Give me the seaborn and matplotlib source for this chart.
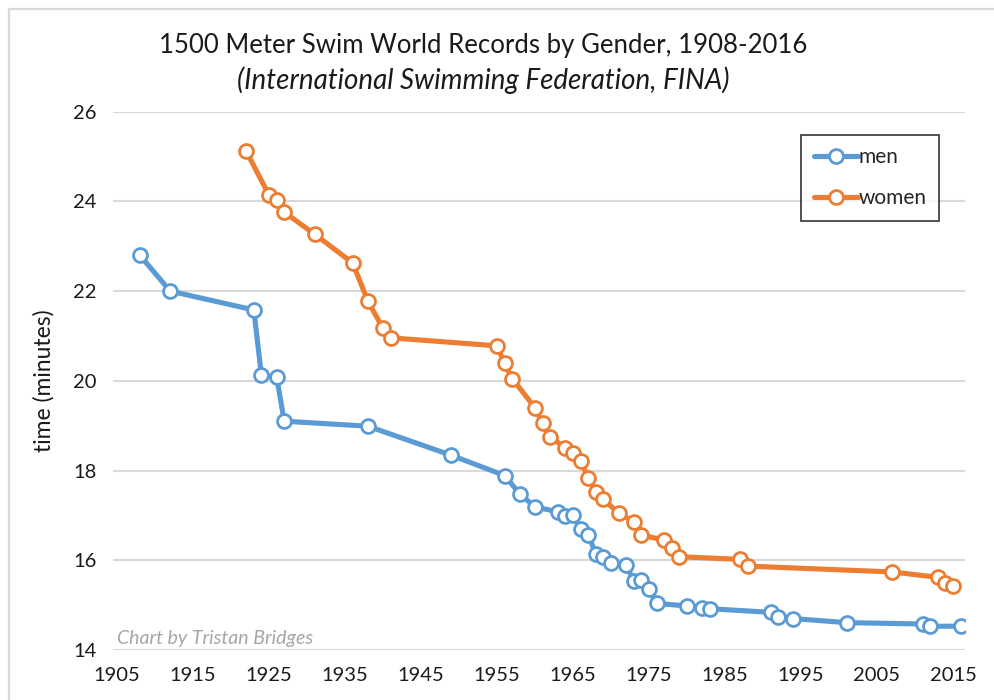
import matplotlib
matplotlib.use("Agg")
import matplotlib.pyplot as plt
from matplotlib.lines import Line2D
import seaborn as sns
import pandas as pd

# ---- data ----
men_years = [1908, 1912, 1923, 1924, 1926, 1927, 1938, 1949, 1956, 1958, 1960, 1963,
             1964, 1965, 1966, 1967, 1968, 1969, 1970, 1972, 1973, 1974, 1975, 1976,
             1980, 1982, 1983, 1991, 1992, 1994, 2001, 2011, 2012, 2016]
men_times = [22.80, 22.00, 21.58, 20.12, 20.09, 19.10, 18.99, 18.34, 17.89, 17.48, 17.19, 17.08,
             16.99, 17.00, 16.70, 16.56, 16.15, 16.08, 15.94, 15.89, 15.54, 15.56, 15.36, 15.04,
             14.98, 14.93, 14.92, 14.84, 14.73, 14.70, 14.61, 14.58, 14.53, 14.53]
women_years = [1922, 1925, 1926, 1927, 1931, 1936, 1938, 1940, 1941, 1955, 1956, 1957,
               1960, 1961, 1962, 1964, 1965, 1966, 1967, 1968, 1969, 1971, 1973, 1974,
               1977, 1978, 1979, 1987, 1988, 2007, 2013, 2014, 2015]
women_times = [25.12, 24.14, 24.03, 23.76, 23.27, 22.63, 21.78, 21.17, 20.96, 20.78, 20.39, 20.05,
               19.40, 19.05, 18.75, 18.51, 18.40, 18.22, 17.84, 17.53, 17.36, 17.05, 16.86, 16.56,
               16.45, 16.27, 16.08, 16.02, 15.87, 15.74, 15.62, 15.49, 15.43]
x_ticks = [1905, 1915, 1925, 1935, 1945, 1955, 1965, 1975, 1985, 1995, 2005, 2015]
y_ticks = [14, 16, 18, 20, 22, 24, 26]

title = "1500 Meter Swim World Records by Gender, 1908-2016"
subtitle = "(International Swimming Federation, FINA)"

BLUE = "#5B9BD5"
ORANGE = "#ED7D31"

sns.set_theme(style="white")
plt.rcParams["font.family"] = ["Lato", "DejaVu Sans"]

df = pd.concat([
    pd.DataFrame({"year": men_years, "time": men_times, "gender": "men"}),
    pd.DataFrame({"year": women_years, "time": women_times, "gender": "women"}),
], ignore_index=True)

fig = plt.figure(figsize=(9.95, 7.0), dpi=100)
ax = fig.add_axes([113 / 995, 1 - 650 / 700, 852 / 995, 538.3 / 700])

for g, col in [("men", BLUE), ("women", ORANGE)]:
    sub = df[df["gender"] == g]
    sns.lineplot(data=sub, x="year", y="time", ax=ax, color=col, lw=3.7,
                 marker="o", markersize=10, markerfacecolor="white",
                 markeredgecolor=col, markeredgewidth=2.0,
                 estimator=None, sort=False, label=g, legend=False,
                 solid_capstyle="round", zorder=3)

ax.set_xlim(1904.47, 2016.58)
ax.set_ylim(14, 26)
ax.set_xticks(x_ticks)
ax.set_yticks(y_ticks)
ax.grid(axis="y", color="#d9d9d9", lw=1.5)
ax.grid(axis="x", visible=False)
for s in ax.spines.values():
    s.set_visible(False)
ax.tick_params(axis="both", length=0, labelsize=14.5, colors="#1a1a1a", pad=12)
ax.set_xlabel("")
ax.set_ylabel("time (minutes)", fontsize=16.5, color="#1a1a1a")
ax.yaxis.set_label_coords(-0.068, 0.5)

handles = [
    Line2D([], [], color=BLUE, lw=3.7, marker="o", markersize=10, mfc="white", mec=BLUE, mew=2.0),
    Line2D([], [], color=ORANGE, lw=3.7, marker="o", markersize=10, mfc="white", mec=ORANGE, mew=2.0),
]
leg = ax.legend(handles, ["men", "women"], loc="upper left", bbox_to_anchor=(0.808, 0.957),
                borderaxespad=0, frameon=True, fancybox=False, edgecolor="black",
                fontsize=15, numpoints=1, handlelength=2.1, handletextpad=0.05,
                labelspacing=1.0, borderpad=0.6)
leg.get_frame().set_linewidth(1.2)
leg.get_frame().set_facecolor("white")
leg.set_zorder(5)

ax.text(0.005, 0.022, "Chart by Tristan Bridges", transform=ax.transAxes, fontsize=14,
        style="italic", color="#a6a6a6", ha="left", va="center")

fig.text(483 / 995, 1 - 45 / 700, title, ha="center", va="center", fontsize=18.5, color="#1a1a1a")
fig.text(483 / 995, 1 - 80 / 700, subtitle, ha="center", va="center", fontsize=20,
         style="italic", color="#1a1a1a")

# outer chart frame (light gray)
fig.add_artist(Line2D([9 / 995, 9 / 995], [0, 1 - 9 / 700], transform=fig.transFigure,
                      color="#d9d9d9", lw=1.6))
fig.add_artist(Line2D([9 / 995, 1], [1 - 9 / 700, 1 - 9 / 700], transform=fig.transFigure,
                      color="#d9d9d9", lw=1.6))

fig.savefig("out.png", dpi=100)
